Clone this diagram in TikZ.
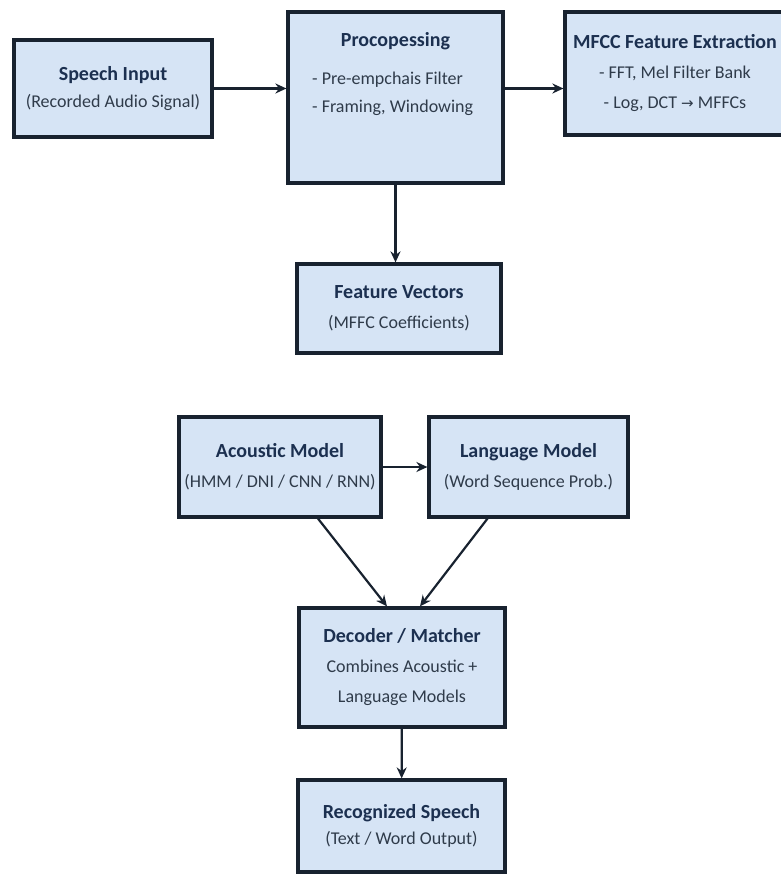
\documentclass[tikz,border=0pt]{standalone}
\usepackage{fontspec}
\setmainfont{Carlito}
\newfontfamily\symfont{DejaVu Sans}
\usetikzlibrary{positioning,arrows.meta}

\definecolor{boxfill}{HTML}{D6E4F5}
\definecolor{boxline}{HTML}{18222F}
\definecolor{titletext}{HTML}{1C3050}
\definecolor{bodytext}{HTML}{2F3B4A}

\newcommand{\boxtitle}[1]{{\color{titletext}\bfseries\fontsize{20}{30}\selectfont #1}}

\begin{document}
\begin{tikzpicture}[x=1pt, y=-1pt, >={Stealth[length=11pt,width=10pt]}]

        \tikzset{box/.style={rectangle, draw=boxline, fill=boxfill, line width=3.2pt, align=center, text=bodytext, font=\fontsize{18}{30}\selectfont, inner sep=0pt}}
        \tikzset{boxtext/.style={align=left, text=bodytext, font=\fontsize{18}{28}\selectfont, inner sep=0pt}}
        \tikzset{link/.style={->, draw=boxline, line width=2.2pt}}

        \useasboundingbox (0,0) rectangle (780,874);

        % top row
        \node[box, minimum width=198, minimum height=97] (speech) at (113,88.5) {\boxtitle{Speech Input}\\[-3pt](Recorded Audio Signal)};
        \node[box, minimum width=215, minimum height=171] (proc) at (395.5,97.5) {};
        \node[boxtext] (procT) at (395.5,41) {\boxtitle{Procopessing}};
        \node[boxtext, anchor=west] (procB) at (312,94) {- Pre-empchais Filter\\- Framing, Windowing};
        \node[box, minimum width=220, minimum height=123] (mfcc) at (675,73.5) {\boxtitle{MFCC Feature Extraction}\\- FFT, Mel Filter Bank\\- Log, DCT {\symfont\fontsize{15}{30}\selectfont →} MFFCs};

        % features
        \node[box, minimum width=204, minimum height=89] (feat) at (399,308.5) {\boxtitle{Feature Vectors}\\(MFFC Coefficients)};

        % models
        \node[box, minimum width=202, minimum height=100] (ac) at (280,467) {\boxtitle{Acoustic Model}\\(HMM / DNI / CNN / RNN)};
        \node[box, minimum width=199, minimum height=100] (lang) at (528.5,467) {\boxtitle{Language Model}\\(Word Sequence Prob.)};

        % decoding and output
        \node[box, minimum width=206, minimum height=119] (dec) at (402,667.5) {\boxtitle{Decoder / Matcher}\\Combines Acoustic +\\Language Models};
        \node[box, minimum width=207, minimum height=92] (rec) at (401.5,826) {\boxtitle{Recognized Speech}\\[-4pt](Text / Word Output)};

        % edges
        \draw[link] (speech.east) -- (speech.east -| proc.west);
        \draw[link] (proc.east |- speech.east) -- (mfcc.west |- speech.east);
        \draw[link] (proc.south) -- (proc.south |- feat.north);

        \draw[link] (ac) -- (lang);
        \draw[link] ([xshift=38pt]ac.south) -- ([xshift=-15pt]dec.north);
        \draw[link] ([xshift=-41pt]lang.south) -- ([xshift=18pt]dec.north);

        \draw[link] (dec) -- (rec);

    \end{tikzpicture}
\end{document}
